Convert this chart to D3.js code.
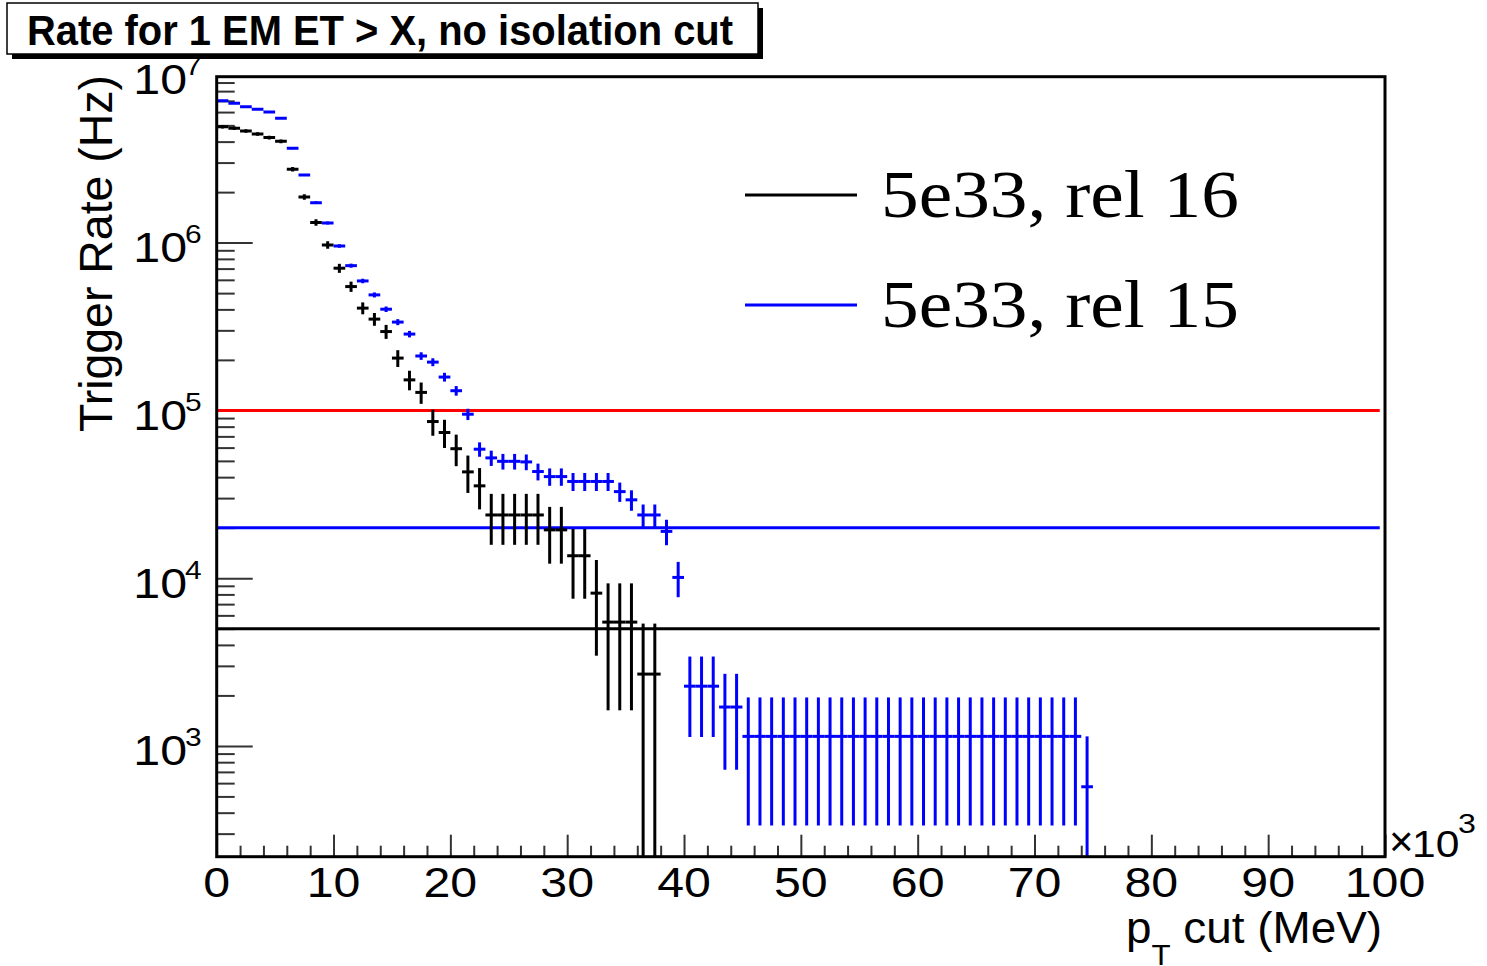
<!DOCTYPE html>
<html>
<head>
<meta charset="utf-8">
<script src="https://cdn.jsdelivr.net/npm/d3@7"></script>
<style>
  body { margin: 0; background: #ffffff; }
  svg { display: block; }
</style>
</head>
<body>
<div id="canvas"></div>
<script>
"use strict"

/* Histogram bins: lower edge of each bin, in units of 10^3 MeV */
let rel16Bins = [0, 1, 2, 3, 4, 5, 6, 7, 8, 9, 10, 11, 12, 13, 14, 15, 16, 17, 18, 19,
    20, 21, 22, 23, 24, 25, 26, 27, 28, 29, 30, 31, 32, 33, 34, 35, 36, 37];
let rel16Rate = [4.91e6, 4.81e6, 4.63e6, 4.44e6, 4.23e6, 4.02e6, 2.74e6, 1.87e6, 1.32e6, 9.69e5,
    7.04e5, 5.47e5, 4.07e5, 3.50e5, 2.95e5, 2.05e5, 1.52e5, 1.28e5, 8.58e4, 7.38e4,
    5.91e4, 4.30e4, 3.55e4, 2.38e4, 2.38e4, 2.38e4, 2.38e4, 2.38e4, 1.94e4, 1.94e4,
    1.36e4, 1.36e4, 8140, 5470, 5470, 5470, 2680, 2680];
let rel16Err = [115100, 113960, 111800, 109500, 106900, 104200, 86000, 71100, 59700, 51150,
    43600, 38400, 33150, 30700, 28200, 23500, 20300, 18600, 15200, 14100,
    12600, 10800, 9800, 8000, 8000, 8000, 8000, 8000, 7200, 7200,
    6060, 6060, 4690, 3840, 3840, 3840, 2680, 2680];

let rel15Bins = [0, 1, 2, 3, 4, 5, 6, 7, 8, 9, 10, 11, 12, 13, 14, 15, 16, 17, 18, 19,
    20, 21, 22, 23, 24, 25, 26, 27, 28, 29, 30, 31, 32, 33, 34, 35, 36, 37, 38, 39,
    40, 41, 42, 43, 44, 45, 46, 47, 48, 49, 50, 51, 52, 53, 54, 55, 56, 57, 58, 59,
    60, 61, 62, 63, 64, 65, 66, 67, 68, 69, 70, 71, 72, 73, 74];
let rel15Rate = [7.02e6, 6.78e6, 6.46e6, 6.24e6, 6.01e6, 5.51e6, 3.65e6, 2.53e6, 1.73e6, 1.31e6,
    9.56e5, 7.29e5, 5.91e5, 4.88e5, 4.01e5, 3.36e5, 2.85e5, 2.11e5, 1.94e5, 1.58e5,
    1.31e5, 9.49e4, 5.87e4, 5.21e4, 4.97e4, 4.97e4, 4.93e4, 4.32e4, 4.03e4, 4.03e4,
    3.77e4, 3.77e4, 3.77e4, 3.77e4, 3.28e4, 2.93e4, 2.38e4, 2.38e4, 1.90e4, 1.01e4,
    2270, 2270, 2270, 1705, 1705, 1140, 1140, 1140, 1140, 1140,
    1140, 1140, 1140, 1140, 1140, 1140, 1140, 1140, 1140, 1140,
    1140, 1140, 1140, 1140, 1140, 1140, 1140, 1140, 1140, 1140,
    1140, 1140, 1140, 1140, 570];
let rel15Err = [63260, 62170, 60680, 59640, 58530, 56040, 45610, 37980, 31400, 27330,
    23340, 20380, 18350, 16680, 15120, 13840, 12750, 10970, 10520, 9490,
    8640, 7350, 5780, 5450, 5320, 5320, 5300, 4960, 4790, 4790,
    4640, 4640, 4640, 4640, 4320, 4090, 3680, 3680, 3290, 2400,
    1140, 1140, 1140, 985, 985, 805, 805, 805, 805, 805,
    805, 805, 805, 805, 805, 805, 805, 805, 805, 805,
    805, 805, 805, 805, 805, 805, 805, 805, 805, 805,
    805, 805, 805, 805, 570];

/* Horizontal rate targets */
let thresholdRates = [1e5, 2e4, 5e3];
let thresholdColors = ["#ff0000", "#0000ff", "#000000"];

let legendLabels = ["5e33, rel 16", "5e33, rel 15"];
let seriesColors = ["#000000", "#0000ff"];

let xTickValues = [0, 10, 20, 30, 40, 50, 60, 70, 80, 90, 100];
let yDecades = [1e3, 1e4, 1e5, 1e6, 1e7];
let yExponents = ["3", "4", "5", "6", "7"];

let drawingWidth = 1487;
let drawingHeight = 966;
let frame = { left: 216.7, right: 1385, top: 76.7, bottom: 856.7 };
let binWidth = 1;

let drawing = d3.select("#canvas")
    .append("svg")
    .attr("width", drawingWidth)
    .attr("height", drawingHeight)
    .style("font-family", "'Liberation Sans', Arial, sans-serif");

drawing.append("rect")
    .attr("width", drawingWidth)
    .attr("height", drawingHeight)
    .attr("fill", "#ffffff");

let x = d3.scaleLinear().domain([0, 100]).range([frame.left, frame.right]);
let y = d3.scaleLog().domain([218.6, 9.75e6]).range([frame.bottom, frame.top]);

/* helper: text stretched horizontally like the original font */
function addText(parent, str, px, py, size, sx, anchor) {
    return parent.append("text")
        .attr("transform", "translate(" + px + "," + py + ") scale(" + sx + ",1)")
        .attr("text-anchor", anchor)
        .attr("font-size", size)
        .attr("fill", "#000000")
        .text(str);
}

/* Title box with shadow */
drawing.append("rect")
    .attr("x", 12).attr("y", 8)
    .attr("width", 751).attr("height", 51)
    .attr("fill", "#000000");
drawing.append("rect")
    .attr("x", 7).attr("y", 3)
    .attr("width", 751).attr("height", 51)
    .attr("fill", "#ffffff")
    .attr("stroke", "#000000")
    .attr("stroke-width", 1.5);
drawing.append("text")
    .attr("x", 27).attr("y", 45)
    .attr("font-size", 42)
    .attr("font-weight", "bold")
    .attr("textLength", 706)
    .attr("lengthAdjust", "spacingAndGlyphs")
    .text("Rate for 1 EM ET > X, no isolation cut");

/* Ticks */
let tickLayer = drawing.append("g");

let yAllTicks = y.ticks();
let yMajor = yAllTicks.filter(v => yDecades.includes(v));
let yMinor = yAllTicks.filter(v => !yDecades.includes(v));

tickLayer.append("g")
    .attr("transform", "translate(" + frame.left + ",0)")
    .call(d3.axisRight(y).tickValues(yMinor).tickSize(18).tickFormat(""));
tickLayer.append("g")
    .attr("transform", "translate(" + frame.left + ",0)")
    .call(d3.axisRight(y).tickValues(yMajor).tickSize(36).tickFormat(""));

let xMinor = x.ticks(50).filter(v => !xTickValues.includes(v));
tickLayer.append("g")
    .attr("transform", "translate(0," + frame.bottom + ")")
    .call(d3.axisTop(x).tickValues(xMinor).tickSize(11).tickFormat(""));
tickLayer.append("g")
    .attr("transform", "translate(0," + frame.bottom + ")")
    .call(d3.axisTop(x).tickValues(xTickValues).tickSize(22).tickFormat(""));

tickLayer.selectAll(".domain").remove();
tickLayer.selectAll(".tick line").attr("stroke", "#333333").attr("stroke-width", 2);

/* Tick labels */
xTickValues.forEach(v => {
    addText(drawing, String(v), x(v), 897, 42, 1.15, "middle");
});
yDecades.forEach((v, i) => {
    addText(drawing, "10", 187, y(v) + 19.5, 42, 1.15, "end");
    addText(drawing, yExponents[i], 185, y(v) + 0.5, 26, 1.15, "start");
});
addText(drawing, "\u00d7", 1389, 856, 42, 1.0, "start");
addText(drawing, "10", 1412, 857, 37, 1.15, "start");
addText(drawing, "3", 1458, 833, 28, 1.15, "start");

/* Axis titles */
let xTitle = drawing.append("text")
    .attr("x", 1382).attr("y", 943)
    .attr("text-anchor", "end")
    .attr("font-size", 44)
    .attr("textLength", 256)
    .attr("lengthAdjust", "spacingAndGlyphs");
xTitle.append("tspan").text("p");
xTitle.append("tspan").attr("font-size", 30).attr("dy", 22).text("T");
xTitle.append("tspan").attr("dy", -22).text(" cut (MeV)");

drawing.append("text")
    .attr("transform", "translate(112,75) rotate(-90)")
    .attr("text-anchor", "end")
    .attr("font-size", 46)
    .attr("textLength", 357)
    .attr("lengthAdjust", "spacingAndGlyphs")
    .text("Trigger Rate (Hz)");

/* Plot area, clipped to the frame */
drawing.append("clipPath")
    .attr("id", "frameClip")
    .append("rect")
    .attr("x", frame.left).attr("y", frame.top)
    .attr("width", frame.right - frame.left)
    .attr("height", frame.bottom - frame.top);

let plot = drawing.append("g").attr("clip-path", "url(#frameClip)");

/* Threshold lines */
plot.selectAll("line.threshold")
    .data(thresholdRates)
    .join("line")
    .attr("class", "threshold")
    .attr("x1", x(0))
    .attr("x2", x(99.55))
    .attr("y1", d => y(d))
    .attr("y2", d => y(d))
    .attr("stroke", (d, i) => thresholdColors[i])
    .attr("stroke-width", 3);

/* Histogram with error bars */
function drawSeries(bins, rates, errs, color) {
    let rows = bins.map((b, i) => ({ lo: b, rate: rates[i], err: errs[i] }));
    let g = plot.append("g")
        .attr("stroke", color)
        .attr("stroke-width", 3);

    g.selectAll("line.hbar")
        .data(rows)
        .join("line")
        .attr("class", "hbar")
        .attr("x1", d => x(d.lo))
        .attr("x2", d => x(d.lo + binWidth))
        .attr("y1", d => y(d.rate))
        .attr("y2", d => y(d.rate));

    g.selectAll("line.vbar")
        .data(rows)
        .join("line")
        .attr("class", "vbar")
        .attr("x1", d => x(d.lo + binWidth / 2))
        .attr("x2", d => x(d.lo + binWidth / 2))
        .attr("y1", d => y(d.rate + d.err))
        .attr("y2", d => (d.rate - d.err > 0 ? y(d.rate - d.err) : frame.bottom + 10));
}

drawSeries(rel16Bins, rel16Rate, rel16Err, seriesColors[0]);
drawSeries(rel15Bins, rel15Rate, rel15Err, seriesColors[1]);

/* Frame */
drawing.append("rect")
    .attr("x", frame.left).attr("y", frame.top)
    .attr("width", frame.right - frame.left)
    .attr("height", frame.bottom - frame.top)
    .attr("fill", "none")
    .attr("stroke", "#000000")
    .attr("stroke-width", 3);

/* Legend */
let legend = drawing.append("g");
legendLabels.forEach((label, i) => {
    let ly = 195 + i * 110;
    legend.append("line")
        .attr("x1", 745).attr("x2", 857)
        .attr("y1", ly).attr("y2", ly)
        .attr("stroke", seriesColors[i])
        .attr("stroke-width", 3);
    legend.append("text")
        .attr("x", 881).attr("y", ly + 22)
        .attr("font-family", "'Liberation Serif', 'Times New Roman', serif")
        .attr("font-size", 68)
        .attr("textLength", 358)
        .attr("lengthAdjust", "spacingAndGlyphs")
        .text(label);
});
</script>
</body>
</html>
